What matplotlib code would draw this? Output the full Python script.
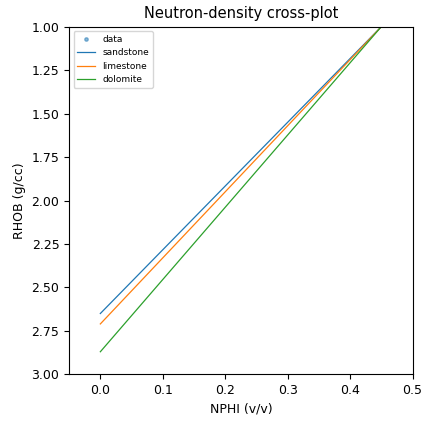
import matplotlib
matplotlib.use("Agg")
import matplotlib.pyplot as plt

names = ["sandstone", "limestone", "dolomite"]
nphi_pts = [0.0, 0.45]
rho_ma = [2.65, 2.71, 2.87]
rho_fl = [1.0, 1.0, 1.0]
colors = ["#1f77b4", "#ff7f0e", "#2ca02c"]

plt.rcParams["font.size"] = 9
fig, ax = plt.subplots(figsize=(4.32, 4.23), dpi=100)
ax.scatter([], [], s=6, color="#1f77b4", alpha=0.5, label="data")
for n, rm, rf, c in zip(names, rho_ma, rho_fl, colors):
    ax.plot(nphi_pts, [rm, rf], color=c, lw=0.9, label=n)
ax.set_xlim(-0.05, 0.5)
ax.set_ylim(3.0, 1.0)
ax.set_xlabel("NPHI (v/v)")
ax.set_ylabel("RHOB (g/cc)")
ax.set_title("Neutron-density cross-plot", fontsize=10.5)
ax.legend(loc="upper left", fontsize=6.5)
fig.subplots_adjust(left=0.16, right=0.955, bottom=0.115, top=0.937)
fig.savefig("out.png")
